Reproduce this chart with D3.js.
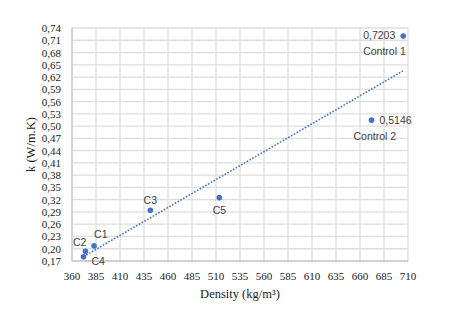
<!DOCTYPE html>
<html><head><meta charset="utf-8">
<script src="https://cdn.jsdelivr.net/npm/d3@7"></script>
<style>body{margin:0;background:#fff;}svg{display:block;}</style>
</head><body>
<svg id="c" width="450" height="318"></svg>
<script>
const names = ["Control 1","Control 2","C5","C3","C1","C2","C4"];
const density = [705, 672, 513.5, 441.6, 383, 374, 372];
const kValues = [0.7203, 0.5146, 0.325, 0.294, 0.207, 0.194, 0.1805];
const showValue = [true, true, false, false, false, false, false];
const xTicks = [360,385,410,435,460,485,510,535,560,585,610,635,660,685,710];
const yTicks = [0.17,0.20,0.23,0.26,0.29,0.32,0.35,0.38,0.41,0.44,0.47,0.50,0.53,0.56,0.59,0.62,0.65,0.68,0.71,0.74];

// label placement (styling, offsets in px relative to point)
const labelPlace = [
  {v:{dx:-40,dy:-1,a:"start"}, n:{dx:-40,dy:15,a:"start"}},
  {v:{dx:8,dy:0,a:"start"}, n:{dx:-18,dy:16,a:"start"}},
  {n:{dx:0,dy:12.5,a:"middle"}},
  {n:{dx:0,dy:-10.5,a:"middle"}},
  {n:{dx:0,dy:-12,a:"start"}},
  {n:{dx:1,dy:-9.5,a:"end"}},
  {n:{dx:8,dy:4.5,a:"start"}}
];

const svg = d3.select("#c");
const L=72, R=408, T=28, B=261;
const x = d3.scaleLinear().domain([360,710]).range([L,R]);
const y = d3.scaleLinear().domain([0.17,0.74]).range([B,T]);
const fmt = v => d3.format(".2f")(v).replace(".",",");
const blue = "#4472C4";
const serif = "'Liberation Serif', 'Times New Roman', serif";

// grid
const g = svg.append("g");
g.selectAll("line.h").data(yTicks).join("line")
  .attr("x1",L).attr("x2",R).attr("y1",d=>y(d)).attr("y2",d=>y(d))
  .attr("stroke","#dedede").attr("stroke-width",1.3);
g.selectAll("line.v").data(xTicks).join("line")
  .attr("y1",T).attr("y2",B).attr("x1",d=>x(d)).attr("x2",d=>x(d))
  .attr("stroke","#dedede").attr("stroke-width",1.3);
g.append("line").attr("x1",L).attr("x2",L).attr("y1",T).attr("y2",B).attr("stroke","#c8c8c8").attr("stroke-width",1.3);
g.append("line").attr("x1",L).attr("x2",R).attr("y1",B).attr("y2",B).attr("stroke","#c8c8c8").attr("stroke-width",1.3);

// tick labels
svg.append("g").selectAll("text").data(yTicks).join("text")
  .attr("x",61).attr("y",d=>y(d)).attr("text-anchor","end").attr("dominant-baseline","central")
  .attr("font-family",serif).attr("font-size",11).attr("fill","#1a1a1a")
  .text(fmt);
svg.append("g").selectAll("text").data(xTicks).join("text")
  .attr("x",d=>x(d)).attr("y",276).attr("text-anchor","middle").attr("dominant-baseline","central")
  .attr("font-family",serif).attr("font-size",11).attr("fill","#1a1a1a")
  .text(d=>d);

// axis titles
svg.append("text").attr("x",(L+R)/2).attr("y",294).attr("text-anchor","middle").attr("dominant-baseline","central")
  .attr("font-family",serif).attr("font-size",12.5).attr("fill","#1a1a1a")
  .text("Density (kg/m³)");
svg.append("text").attr("transform",`translate(31,${(T+B)/2}) rotate(-90)`).attr("text-anchor","middle").attr("dominant-baseline","central")
  .attr("font-family",serif).attr("font-size",12.5).attr("fill","#1a1a1a")
  .text("k (W/m.K)");

// linear trendline (least squares)
const mx = d3.mean(density), my = d3.mean(kValues);
let sxy=0, sxx=0;
density.forEach((d,i)=>{sxy+=(d-mx)*(kValues[i]-my); sxx+=(d-mx)*(d-mx);});
const slope = sxy/sxx, icpt = my - slope*mx;
const [x0,x1] = d3.extent(density);
svg.append("line").attr("x1",x(x0)).attr("x2",x(x1)).attr("y1",y(icpt+slope*x0)).attr("y2",y(icpt+slope*x1))
  .attr("stroke",blue).attr("stroke-width",1.6).attr("stroke-dasharray","1.6,1.6");

// points
const pts = density.map((d,i)=>({x:d,y:kValues[i],name:names[i],sv:showValue[i],lp:labelPlace[i]}));
svg.append("g").selectAll("circle").data(pts).join("circle")
  .attr("cx",d=>x(d.x)).attr("cy",d=>y(d.y)).attr("r",2.8).attr("fill",blue);

// labels
const lf = "'Liberation Sans', Arial, sans-serif";
pts.forEach(p=>{
  const px=x(p.x), py=y(p.y);
  if(p.sv){
    svg.append("text").attr("x",px+p.lp.v.dx).attr("y",py+p.lp.v.dy).attr("text-anchor",p.lp.v.a)
      .attr("dominant-baseline","central").attr("font-family",lf).attr("font-size",10.5).attr("fill","#404040")
      .text(String(p.y).replace(".",","));
  }
  svg.append("text").attr("x",px+p.lp.n.dx).attr("y",py+p.lp.n.dy).attr("text-anchor",p.lp.n.a)
    .attr("dominant-baseline","central").attr("font-family",lf).attr("font-size",10.5).attr("fill","#404040")
    .text(p.name);
});
</script>
</body></html>
